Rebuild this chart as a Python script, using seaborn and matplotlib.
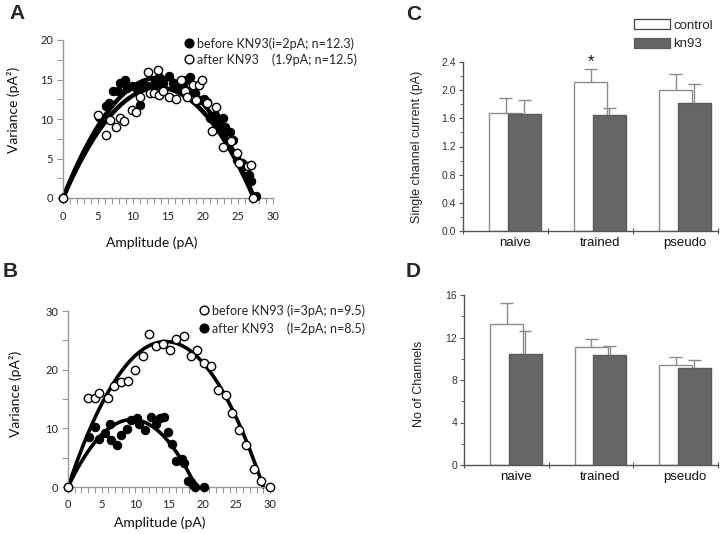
import numpy as np
import pandas as pd
import matplotlib
matplotlib.use("Agg")
import matplotlib.pyplot as plt
import seaborn as sns
from matplotlib.lines import Line2D
from matplotlib.patches import Patch
from matplotlib.ticker import MultipleLocator

# ---------------- data ----------------
# Panel A (variance vs amplitude)
A_before_x = [0, 5.1, 5.5, 6.1, 6.6, 7.2, 7.9, 8.2, 8.8, 9.1, 9.9, 10.5, 11.0, 11.4, 12.1,
              13.1, 13.7, 14.3, 15.2, 15.7, 16.4, 17.1, 17.6, 18.1, 18.8, 19.5, 20.2, 20.5,
              21.0, 21.7, 22.2, 22.8, 23.2, 23.8, 24.3, 24.9, 25.5, 26.0, 26.6, 26.9, 27.6]
A_before_y = [0, 10.2, 10.1, 11.7, 12.0, 13.6, 13.5, 14.5, 15.0, 13.9, 14.2, 13.8, 11.8, 14.3, 14.2,
              14.7, 15.3, 14.5, 15.5, 14.5, 13.8, 14.5, 15.0, 15.3, 13.3, 12.4, 12.5, 12.2,
              10.1, 10.5, 9.5, 10.1, 9.0, 8.4, 7.4, 4.8, 4.4, 4.0, 2.9, 2.1, 0.3]
A_after_x = [0, 5.0, 6.1, 6.7, 7.5, 8.1, 8.7, 9.8, 10.4, 11.0, 12.2, 12.4, 13.0, 13.6, 13.7,
             14.3, 15.2, 16.1, 16.9, 17.4, 17.7, 18.5, 19.0, 19.4, 19.9, 20.5, 21.3, 21.9,
             22.9, 24.0, 24.8, 25.2, 26.4, 26.8, 27.1]
A_after_y = [0, 10.5, 8.0, 9.9, 9.0, 10.1, 9.8, 11.1, 10.9, 12.8, 16.0, 13.3, 13.3, 16.2, 13.1,
             13.5, 12.8, 12.5, 14.9, 13.5, 12.8, 14.3, 12.4, 14.3, 14.9, 12.0, 8.5, 11.5,
             6.5, 7.2, 5.7, 4.4, 4.0, 4.2, 0.0]
# fitted parabola parameters: var = i*I - I^2/n
A_fit_before = (2.23, 12.25)
A_fit_after = (2.05, 13.3)

# Panel B
B_before_x = [0, 3.0, 4.0, 4.6, 5.9, 6.9, 7.9, 8.9, 9.9, 11.1, 12.0, 13.0, 14.1, 15.1, 16.1,
              17.2, 18.2, 19.2, 20.2, 21.2, 22.3, 23.4, 24.4, 25.4, 26.5, 27.6, 28.6, 30.0]
B_before_y = [0, 15.2, 15.1, 16.0, 15.1, 17.2, 17.9, 18.1, 20.0, 22.4, 26.0, 24.1, 24.4, 23.3, 25.3,
              25.7, 22.3, 23.3, 21.1, 20.6, 16.6, 15.6, 12.6, 9.8, 7.1, 3.1, 1.0, 0.0]
B_after_x = [0, 3.1, 4.0, 4.6, 5.5, 6.2, 6.4, 7.3, 7.9, 8.8, 9.4, 10.3, 10.6, 11.4, 12.4, 13.1,
             13.6, 14.2, 14.9, 15.5, 16.1, 16.9, 17.2, 17.8, 18.3, 18.6, 18.8, 20.2]
B_after_y = [0, 8.5, 10.2, 8.1, 9.2, 10.7, 8.0, 7.1, 8.8, 9.9, 11.5, 11.8, 10.7, 9.8, 11.9, 10.8,
             11.8, 11.9, 9.4, 7.3, 4.5, 4.7, 4.1, 1.1, 0.9, 0.3, 0.0, 0.0]
B_fit_before = (3.42, 8.48)
B_fit_after = (2.42, 7.85)

# Panels C and D (bar charts)
categories = ["naive", "trained", "pseudo"]
C_control = [1.68, 2.11, 2.00]
C_control_err = [0.20, 0.18, 0.23]
C_kn93 = [1.665, 1.65, 1.82]
C_kn93_err = [0.195, 0.10, 0.26]
D_control = [13.24, 11.07, 9.38]
D_control_err = [2.04, 0.76, 0.82]
D_kn93 = [10.45, 10.32, 9.10]
D_kn93_err = [2.13, 0.91, 0.81]

# ---------------- style ----------------
sns.set_style("ticks")
plt.rcParams["font.family"] = ["Lato", "DejaVu Sans"]

W, H = 720, 534
fig = plt.figure(figsize=(7.2, 5.34), dpi=100)


def rect(l, r, t, b):
    return [l / W, 1 - b / H, (r - l) / W, (b - t) / H]


axA = fig.add_axes(rect(63, 273, 40, 198))
axB = fig.add_axes(rect(68, 270, 311, 487))
axC = fig.add_axes(rect(463, 718, 61.7, 231.3))
axD = fig.add_axes(rect(464, 718, 295, 465))

SC_GREY = "#9a9a9a"
MS = 36


def fit_curve(ax, params, lw):
    i, n = params
    xs = np.linspace(0, i * n, 200)
    ys = i * xs - xs ** 2 / n
    sns.lineplot(x=xs, y=ys, color="black", lw=lw, ax=ax, zorder=2, clip_on=False,
                 solid_capstyle="round")


def scatter_style(ax, ymax, ymaj, ymin):
    ax.set_xlim(0, 30)
    ax.set_ylim(0, ymax)
    ax.xaxis.set_major_locator(MultipleLocator(5))
    ax.xaxis.set_minor_locator(MultipleLocator(1))
    ax.yaxis.set_major_locator(MultipleLocator(ymaj))
    ax.yaxis.set_minor_locator(MultipleLocator(ymin))
    for s in ["top", "right"]:
        ax.spines[s].set_visible(False)
    for s in ["left", "bottom"]:
        ax.spines[s].set_color(SC_GREY)
        ax.spines[s].set_linewidth(1)
    ax.tick_params(which="both", color=SC_GREY, labelcolor="#222222", labelsize=8,
                   direction="out", width=0.8)
    ax.tick_params(axis="x", which="major", length=4, pad=5)
    ax.tick_params(axis="x", which="minor", length=4)
    ax.tick_params(axis="y", which="major", length=4, pad=3)
    ax.tick_params(axis="y", which="minor", length=4)
    ax.set_xlabel("Amplitude (pA)", fontsize=10, color="#111111")
    ax.set_ylabel("Variance (pA\u00b2)", fontsize=10, color="#111111")


# ---- Panel A ----
fit_curve(axA, A_fit_before, 3.2)
fit_curve(axA, A_fit_after, 3.2)
sns.scatterplot(x=A_before_x, y=A_before_y, color="black", edgecolor="black", s=MS,
                linewidth=0.8, ax=axA, zorder=3, clip_on=False)
sns.scatterplot(x=A_after_x, y=A_after_y, color="white", edgecolor="black", s=MS,
                linewidth=1.0, ax=axA, zorder=4, clip_on=False)
scatter_style(axA, 20, 5, 2.5)
axA.xaxis.set_label_coords(0.424, -0.245)
axA.yaxis.set_label_coords(-0.205, 0.56)
axA.xaxis.label.set_verticalalignment("top")
axA.yaxis.label.set_verticalalignment("bottom")

hA = [Line2D([], [], marker="o", ls="none", color="black", markersize=6.3),
      Line2D([], [], marker="o", ls="none", markerfacecolor="white",
             markeredgecolor="black", markersize=6.3)]
fig.legend(hA, ["before KN93(i=2pA; n=12.3)", "after KN93    (1.9pA; n=12.5)"],
           loc="upper left", bbox_to_anchor=(184 / W, 1 - 37 / H), frameon=False,
           borderpad=0, borderaxespad=0, handlelength=0.8, handletextpad=0.25,
           labelspacing=0.3, fontsize=9)

# ---- Panel B ----
fit_curve(axB, B_fit_before, 2.6)
fit_curve(axB, B_fit_after, 2.6)
sns.scatterplot(x=B_after_x, y=B_after_y, color="black", edgecolor="black", s=MS,
                linewidth=0.8, ax=axB, zorder=3, clip_on=False)
sns.scatterplot(x=B_before_x, y=B_before_y, color="white", edgecolor="black", s=MS,
                linewidth=1.0, ax=axB, zorder=4, clip_on=False)
scatter_style(axB, 30, 10, 5)
axB.xaxis.set_label_coords(0.455, -0.165)
axB.yaxis.set_label_coords(-0.228, 0.53)

hB = [Line2D([], [], marker="o", ls="none", markerfacecolor="white",
             markeredgecolor="black", markersize=6.3),
      Line2D([], [], marker="o", ls="none", color="black", markersize=6.3)]
fig.legend(hB, ["before KN93 (i=3pA; n=9.5)", "after KN93    (I=2pA; n=8.5)"],
           loc="upper left", bbox_to_anchor=(199 / W, 1 - 304 / H), frameon=False,
           borderpad=0, borderaxespad=0, handlelength=0.8, handletextpad=0.25,
           labelspacing=0.45, fontsize=9)

# ---- Panels C, D ----
ARIAL = ["Liberation Sans", "DejaVu Sans"]
CTRL_EDGE = "#8c8c8c"
KN_FACE = "#666666"
KN_EDGE = "#5a5a5a"
AX_COL = "#555555"
OFF, BW = 0.11, 0.39
pos = np.arange(len(categories))
ctrl_pos = pos - OFF
kn_pos = pos + OFF


def err_up(ax, x, y, e, z):
    x = np.asarray(x); y = np.asarray(y); e = np.asarray(e)
    ax.vlines(x, y, y + e, color=CTRL_EDGE, lw=1, zorder=z)
    ax.hlines(y + e, x - 0.075, x + 0.075, color=CTRL_EDGE, lw=1, zorder=z)


def bar_panel(ax, ctrl, ctrl_e, kn, kn_e, ymax, ymaj, ymin, fmt, ylabel):
    sns.barplot(x=ctrl_pos, y=ctrl, native_scale=True, width=BW, color="white",
                edgecolor=CTRL_EDGE, linewidth=1, saturation=1, errorbar=None, ax=ax,
                zorder=2)
    err_up(ax, ctrl_pos, ctrl, ctrl_e, 2.5)
    sns.barplot(x=kn_pos, y=kn, native_scale=True, width=BW, color=KN_FACE,
                edgecolor=KN_EDGE, linewidth=1, saturation=1, errorbar=None, ax=ax,
                zorder=3)
    err_up(ax, kn_pos, kn, kn_e, 3.5)
    ax.set_xlim(-0.612, 2.388)
    ax.set_ylim(0, ymax)
    ax.set_xticks([-0.612, 0.388, 1.388, 2.388])
    ax.set_xticklabels([])
    ax.set_xticks(pos, minor=True)
    ax.set_xticklabels(categories, minor=True, fontsize=9.5, family=ARIAL)
    ax.yaxis.set_major_locator(MultipleLocator(ymaj))
    ax.yaxis.set_minor_locator(MultipleLocator(ymin))
    ax.set_yticks(np.arange(0, ymax + 1e-9, ymaj))
    ax.set_yticklabels([fmt.format(v) for v in np.arange(0, ymax + 1e-9, ymaj)],
                       family=ARIAL, fontsize=7.5, color="#333333")
    for s in ["top", "right"]:
        ax.spines[s].set_visible(False)
    for s in ["left", "bottom"]:
        ax.spines[s].set_color(AX_COL)
        ax.spines[s].set_linewidth(1)
    ax.tick_params(axis="x", which="major", length=5, direction="inout", color=AX_COL)
    ax.tick_params(axis="x", which="minor", length=0, pad=4, labelcolor="#111111")
    ax.tick_params(axis="y", which="major", length=3, direction="out", color=AX_COL,
                   pad=2)
    ax.tick_params(axis="y", which="minor", length=2, direction="out", color=AX_COL)
    ax.set_xlabel("")
    ax.set_ylabel(ylabel, family=ARIAL, fontsize=9, color="#222222")


bar_panel(axC, C_control, C_control_err, C_kn93, C_kn93_err, 2.4, 0.4, 0.2, "{:.1f}",
          "Single channel current (pA)")
axC.yaxis.set_label_coords(-0.157, 0.5)
axC.text(ctrl_pos[1], 2.30, "*", ha="center", va="bottom", fontsize=12,
         family=ARIAL, color="#111111")

bar_panel(axD, D_control, D_control_err, D_kn93, D_kn93_err, 16, 4, 2, "{:.0f}",
          "No of Channels")
axD.yaxis.set_label_coords(-0.154, 0.48)

hC = [Patch(facecolor="white", edgecolor="#444444", linewidth=0.9),
      Patch(facecolor=KN_FACE, edgecolor=KN_EDGE, linewidth=0.9)]
fig.legend(hC, ["control", "kn93"], loc="upper left",
           bbox_to_anchor=(634 / W, 1 - 19 / H), frameon=False, borderpad=0,
           borderaxespad=0, handlelength=2.7, handleheight=0.8, handletextpad=0.3,
           labelspacing=0.45, prop={"family": ARIAL, "size": 9.5})

# panel letters
for letter, x, y in [("A", 9, 4), ("B", 3, 262), ("C", 406, 5), ("D", 406, 262)]:
    fig.text(x / W, 1 - y / H, letter, fontsize=15, fontweight="bold",
             family=ARIAL, va="top", ha="left")

fig.savefig("out.png", dpi=100)
